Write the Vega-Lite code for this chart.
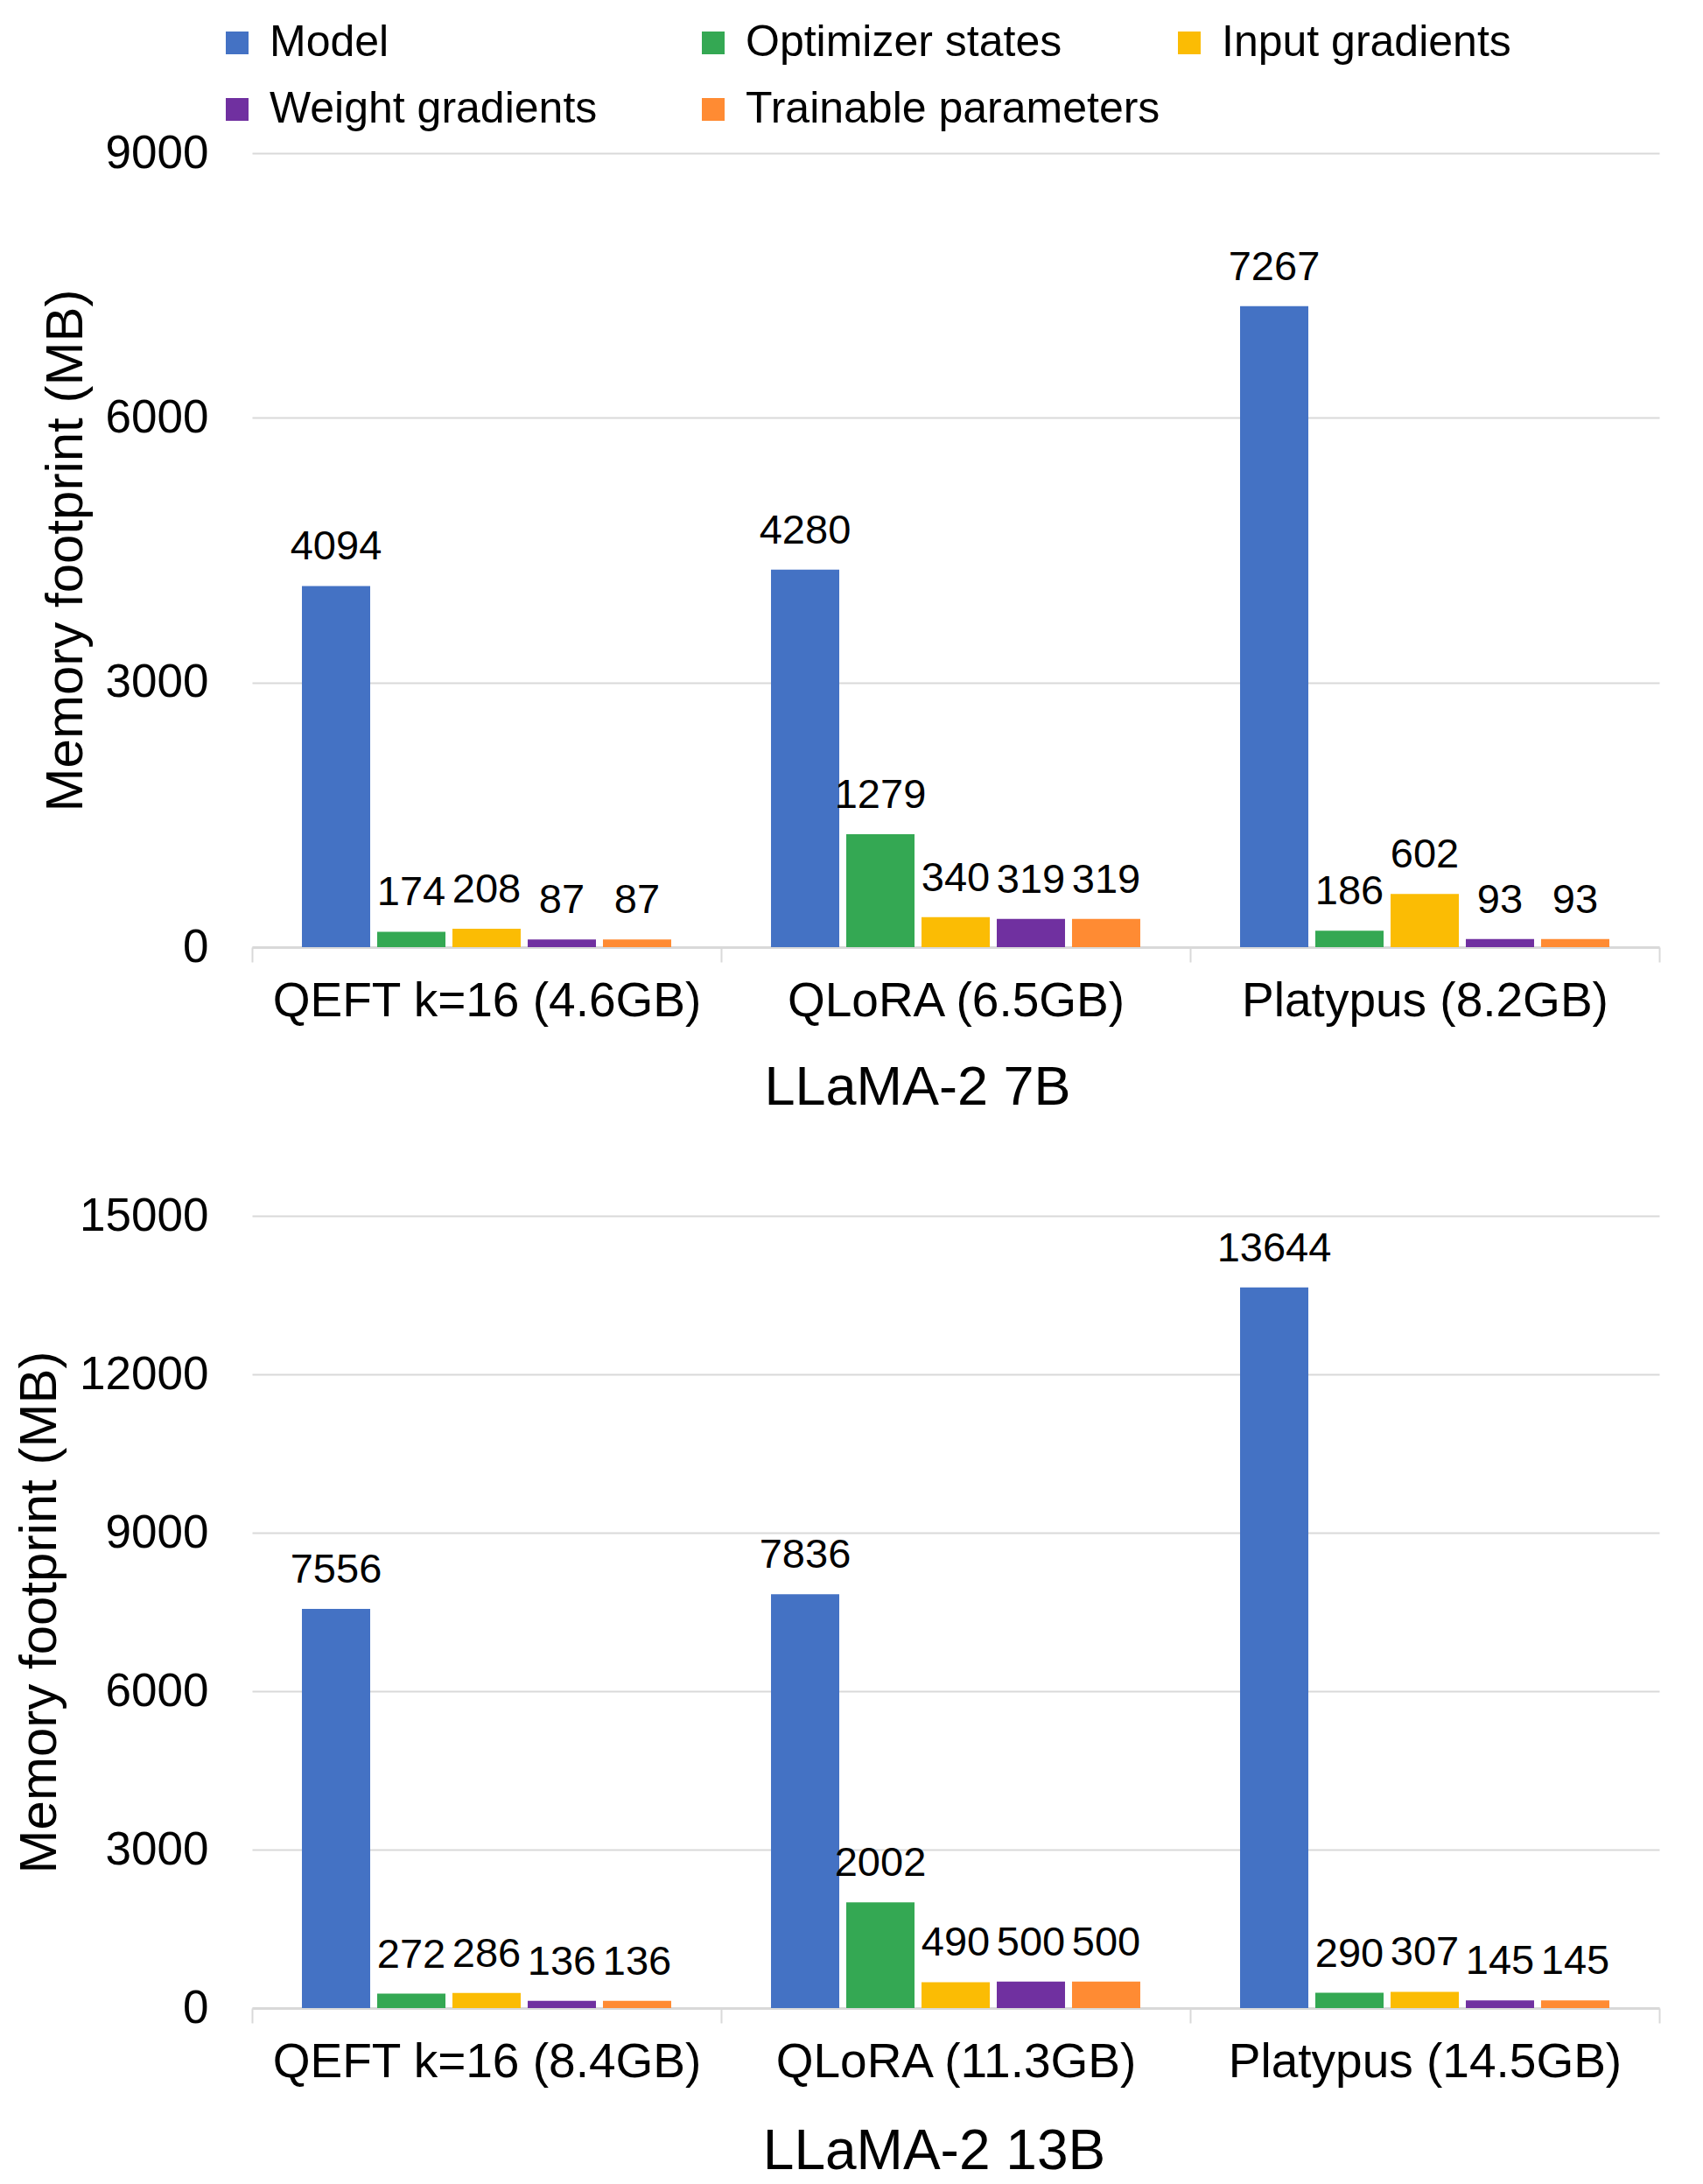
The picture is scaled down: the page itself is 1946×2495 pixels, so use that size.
{
  "$schema": "https://vega.github.io/schema/vega-lite/v6.json",
  "padding": {"left": 15, "top": 24, "right": 10, "bottom": 10},
  "spacing": 89,
  "config": {
    "font": "Liberation Sans",
    "view": {"stroke": null},
    "axis": {"labelColor": "#000000", "titleColor": "#000000", "titleFontWeight": "normal", "labelFont": "Liberation Sans", "titleFont": "Liberation Sans"},
    "legend": {"labelColor": "#000000", "labelFont": "Liberation Sans"}
  },
  "data": {"values": [
    {"size": "7B", "method": "QEFT k=16 (4.6GB)", "component": "Model", "value": 4094},
    {"size": "7B", "method": "QEFT k=16 (4.6GB)", "component": "Optimizer states", "value": 174},
    {"size": "7B", "method": "QEFT k=16 (4.6GB)", "component": "Input gradients", "value": 208},
    {"size": "7B", "method": "QEFT k=16 (4.6GB)", "component": "Weight gradients", "value": 87},
    {"size": "7B", "method": "QEFT k=16 (4.6GB)", "component": "Trainable parameters", "value": 87},
    {"size": "7B", "method": "QLoRA (6.5GB)", "component": "Model", "value": 4280},
    {"size": "7B", "method": "QLoRA (6.5GB)", "component": "Optimizer states", "value": 1279},
    {"size": "7B", "method": "QLoRA (6.5GB)", "component": "Input gradients", "value": 340},
    {"size": "7B", "method": "QLoRA (6.5GB)", "component": "Weight gradients", "value": 319},
    {"size": "7B", "method": "QLoRA (6.5GB)", "component": "Trainable parameters", "value": 319},
    {"size": "7B", "method": "Platypus (8.2GB)", "component": "Model", "value": 7267},
    {"size": "7B", "method": "Platypus (8.2GB)", "component": "Optimizer states", "value": 186},
    {"size": "7B", "method": "Platypus (8.2GB)", "component": "Input gradients", "value": 602},
    {"size": "7B", "method": "Platypus (8.2GB)", "component": "Weight gradients", "value": 93},
    {"size": "7B", "method": "Platypus (8.2GB)", "component": "Trainable parameters", "value": 93},
    {"size": "13B", "method": "QEFT k=16 (8.4GB)", "component": "Model", "value": 7556},
    {"size": "13B", "method": "QEFT k=16 (8.4GB)", "component": "Optimizer states", "value": 272},
    {"size": "13B", "method": "QEFT k=16 (8.4GB)", "component": "Input gradients", "value": 286},
    {"size": "13B", "method": "QEFT k=16 (8.4GB)", "component": "Weight gradients", "value": 136},
    {"size": "13B", "method": "QEFT k=16 (8.4GB)", "component": "Trainable parameters", "value": 136},
    {"size": "13B", "method": "QLoRA (11.3GB)", "component": "Model", "value": 7836},
    {"size": "13B", "method": "QLoRA (11.3GB)", "component": "Optimizer states", "value": 2002},
    {"size": "13B", "method": "QLoRA (11.3GB)", "component": "Input gradients", "value": 490},
    {"size": "13B", "method": "QLoRA (11.3GB)", "component": "Weight gradients", "value": 500},
    {"size": "13B", "method": "QLoRA (11.3GB)", "component": "Trainable parameters", "value": 500},
    {"size": "13B", "method": "Platypus (14.5GB)", "component": "Model", "value": 13644},
    {"size": "13B", "method": "Platypus (14.5GB)", "component": "Optimizer states", "value": 290},
    {"size": "13B", "method": "Platypus (14.5GB)", "component": "Input gradients", "value": 307},
    {"size": "13B", "method": "Platypus (14.5GB)", "component": "Weight gradients", "value": 145},
    {"size": "13B", "method": "Platypus (14.5GB)", "component": "Trainable parameters", "value": 145}
  ]},
  "vconcat": [
    {
      "width": 1608,
      "height": 907,
      "transform": [{"filter": "datum.size === '7B'"}],
      "encoding": {
        "x": {
          "field": "method", "type": "nominal",
          "sort": ["QEFT k=16 (4.6GB)", "QLoRA (6.5GB)", "Platypus (8.2GB)"],
          "scale": {"paddingInner": 0, "paddingOuter": 0},
          "axis": {"title": "LLaMA-2 7B", "titleX": 760, "titleAlign": "center", "labelAngle": 0, "tickBand": "extent", "domainColor": "#d9d9d9", "domainWidth": 3, "tickColor": "#d9d9d9", "tickWidth": 2, "tickSize": 17, "labelFontSize": 55, "labelPadding": 18, "titleFontSize": 63, "titlePadding": 40, "labelLimit": 800}
        },
        "xOffset": {
          "field": "component", "type": "nominal",
          "sort": ["Model", "Optimizer states", "Input gradients", "Weight gradients", "Trainable parameters"],
          "scale": {"paddingInner": 0.093, "paddingOuter": 0.663}
        },
        "y": {
          "field": "value", "type": "quantitative",
          "scale": {"domain": [0, 9000], "nice": false},
          "axis": {"values": [0, 3000, 6000, 9000], "format": "d", "title": "Memory footprint (MB)", "grid": true, "gridColor": "#d9d9d9", "gridWidth": 2, "domain": false, "ticks": false, "tickSize": 0, "labelPadding": 50, "labelFontSize": 53, "titleFontSize": 60, "titlePadding": 14}
        }
      },
      "layer": [
        {
          "mark": {"type": "bar"},
          "encoding": {
            "color": {
              "field": "component", "type": "nominal",
              "scale": {"domain": ["Model", "Optimizer states", "Input gradients", "Weight gradients", "Trainable parameters"], "range": ["#4472C4", "#34A853", "#FBBC04", "#7030A0", "#FF8B33"]},
              "legend": {"orient": "none", "legendX": -42, "legendY": -151, "columns": 3, "direction": "horizontal", "title": null, "symbolType": "square", "symbolSize": 676, "symbolStrokeWidth": 0, "labelFontSize": 50, "labelLimit": 800, "gridAlign": "all", "columnPadding": 8, "rowPadding": 26, "labelOffset": 12}
            }
          }
        },
        {
          "mark": {"type": "text", "baseline": "alphabetic", "dy": -30, "fontSize": 47, "color": "#000000"},
          "encoding": {"text": {"field": "value", "type": "quantitative", "format": "d"}}
        }
      ]
    },
    {
      "width": 1608,
      "height": 905,
      "transform": [{"filter": "datum.size === '13B'"}],
      "encoding": {
        "x": {
          "field": "method", "type": "nominal",
          "sort": ["QEFT k=16 (8.4GB)", "QLoRA (11.3GB)", "Platypus (14.5GB)"],
          "scale": {"paddingInner": 0, "paddingOuter": 0},
          "axis": {"title": "LLaMA-2 13B", "titleX": 779, "titleAlign": "center", "labelAngle": 0, "tickBand": "extent", "domainColor": "#d9d9d9", "domainWidth": 3, "tickColor": "#d9d9d9", "tickWidth": 2, "tickSize": 17, "labelFontSize": 55, "labelPadding": 18, "titleFontSize": 64, "titlePadding": 43, "labelLimit": 800}
        },
        "xOffset": {
          "field": "component", "type": "nominal",
          "sort": ["Model", "Optimizer states", "Input gradients", "Weight gradients", "Trainable parameters"],
          "scale": {"paddingInner": 0.093, "paddingOuter": 0.663}
        },
        "y": {
          "field": "value", "type": "quantitative",
          "scale": {"domain": [0, 15000], "nice": false},
          "axis": {"values": [0, 3000, 6000, 9000, 12000, 15000], "format": "d", "title": "Memory footprint (MB)", "grid": true, "gridColor": "#d9d9d9", "gridWidth": 2, "domain": false, "ticks": false, "tickSize": 0, "labelPadding": 50, "labelFontSize": 53, "titleFontSize": 60, "titlePadding": 14}
        }
      },
      "layer": [
        {
          "mark": {"type": "bar"},
          "encoding": {
            "color": {"field": "component", "type": "nominal"}
          }
        },
        {
          "mark": {"type": "text", "baseline": "alphabetic", "dy": -30, "fontSize": 47, "color": "#000000"},
          "encoding": {"text": {"field": "value", "type": "quantitative", "format": "d"}}
        }
      ]
    }
  ]
}
